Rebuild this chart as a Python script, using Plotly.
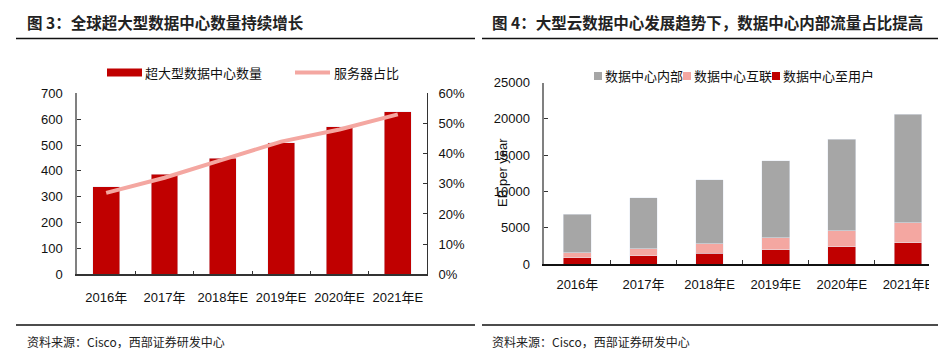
import plotly.graph_objects as go

# ---------------- data ----------------
years = ["2016年", "2017年", "2018年E", "2019年E", "2020年E", "2021年E"]
hyperscale_dc = [338, 386, 448, 509, 570, 628]
server_share = [0.27, 0.32, 0.38, 0.44, 0.48, 0.53]

dc_internal = [5330, 7060, 8810, 10560, 12580, 14970]
dc_to_dc = [640, 920, 1290, 1700, 2200, 2750]
dc_to_user = [880, 1150, 1510, 1930, 2390, 2940]

left_title = "图 3：全球超大型数据中心数量持续增长"
right_title = "图 4：大型云数据中心发展趋势下，数据中心内部流量占比提高"
source_text = "资料来源：Cisco，西部证券研发中心"

RED = "#C00000"
PINK = "#F4A7A1"
GRAY = "#A6A6A6"
OFF = 8  # default page body margin
W, H = 950 - OFF, 363 - OFF
FONT = "Liberation Sans, Arial, Noto Sans CJK SC, sans-serif"

def px(x):
    return (x - OFF) / W

def py(y):
    return 1 - (y - OFF) / H

fig = go.Figure()

# left chart
fig.add_trace(go.Bar(x=years, y=hyperscale_dc, name="超大型数据中心数量", marker_color=RED,
                     width=0.46, xaxis="x", yaxis="y", showlegend=False))
fig.add_trace(go.Scatter(x=years, y=server_share, name="服务器占比", mode="lines",
                         line=dict(color=PINK, width=4), xaxis="x", yaxis="y2", showlegend=False))

# right chart
fig.add_trace(go.Bar(x=years, y=dc_to_user, name="数据中心至用户", marker_color=RED,
                     width=0.42, xaxis="x3", yaxis="y3", showlegend=False))
fig.add_trace(go.Bar(x=years, y=dc_to_dc, name="数据中心互联", marker_color=PINK,
                     width=0.42, xaxis="x3", yaxis="y3", showlegend=False))
fig.add_trace(go.Bar(x=years, y=dc_internal, name="数据中心内部", marker_color=GRAY,
                     width=0.42, xaxis="x3", yaxis="y3", showlegend=False))

tickfont = dict(family=FONT, size=13, color="#111111")
xtickfont = dict(family=FONT, size=13, color="#111111")

fig.update_layout(
    width=W, height=H,
    margin=dict(l=0, r=0, t=0, b=0, autoexpand=False),
    paper_bgcolor="white", plot_bgcolor="white",
    barmode="stack",
    font=dict(family=FONT, size=13, color="#111111"),
    xaxis=dict(domain=[px(77), px(427)], anchor="y", type="category",
               showline=True, linecolor="#333333", linewidth=1.5,
               ticks="inside", tickson="boundaries", ticklen=4, tickcolor="#333333",
               tickfont=xtickfont, tickangle=0, showgrid=False, automargin=False,
               ticklabelstandoff=10),
    yaxis=dict(domain=[py(274.3), py(93.3)], anchor="x", range=[0, 700], dtick=100,
               showline=True, linecolor="#808080", linewidth=1.5,
               ticks="inside", ticklen=4, tickcolor="#333333", automargin=False,
               tickfont=tickfont, showgrid=False, zeroline=False, ticklabelstandoff=10),
    yaxis2=dict(overlaying="y", side="right", anchor="x", range=[0, 0.6], dtick=0.1,
                tickformat=".0%", showline=True, linecolor="#333333", linewidth=1,
                ticks="inside", ticklen=4, tickcolor="#333333", automargin=False,
                tickfont=tickfont, showgrid=False, zeroline=False, ticklabelstandoff=8),
    xaxis3=dict(domain=[px(544.3), px(941)], anchor="y3", type="category",
                showline=True, linecolor="#111111", linewidth=1.5,
                ticks="inside", tickson="boundaries", ticklen=4, tickcolor="#333333",
                tickfont=tickfont, tickangle=0, showgrid=False, automargin=False,
                ticklabelstandoff=8),
    yaxis3=dict(domain=[py(264), py(82.5)], anchor="x3", range=[0, 25000], dtick=5000,
                tickformat="d",
                showline=True, linecolor="#808080", linewidth=1.5,
                ticks="inside", ticklen=4, tickcolor="#333333", automargin=False,
                tickfont=tickfont, showgrid=False, zeroline=False, ticklabelstandoff=10),
)

shapes = []
# clip right edge of right chart
shapes.append(dict(type="rect", xref="paper", yref="paper", x0=px(929), x1=1, y0=py(310), y1=py(60),
                   fillcolor="white", line=dict(width=0), layer="above"))
# title underlines and bottom lines
for x0, x1 in [(16, 475), (482, 938)]:
    shapes.append(dict(type="line", xref="paper", yref="paper", x0=px(x0), x1=px(x1),
                       y0=py(38.5), y1=py(38.5), line=dict(color="#111111", width=1.5)))
    shapes.append(dict(type="line", xref="paper", yref="paper", x0=px(x0), x1=px(x1),
                       y0=py(325), y1=py(325), line=dict(color="#111111", width=1.5)))
# legend symbols left
shapes.append(dict(type="rect", xref="paper", yref="paper", x0=px(107), x1=px(142),
                   y0=py(76.5), y1=py(68.5), fillcolor=RED, line=dict(width=0)))
shapes.append(dict(type="line", xref="paper", yref="paper", x0=px(295), x1=px(330),
                   y0=py(72.5), y1=py(72.5), line=dict(color=PINK, width=4)))
# legend symbols right
for xs, c in [(594, GRAY), (683, PINK), (772, RED)]:
    shapes.append(dict(type="rect", xref="paper", yref="paper", x0=px(xs), x1=px(xs + 8),
                       y0=py(80), y1=py(72), fillcolor=c, line=dict(width=0)))
fig.update_layout(shapes=shapes)

ann = []
title_font = dict(family="Noto Sans CJK SC, sans-serif", size=15.5, color="#222222")
ann.append(dict(text="<b>" + left_title + "</b>", x=px(25), y=py(22), xref="paper", yref="paper",
                xanchor="left", yanchor="middle", showarrow=False, font=title_font))
ann.append(dict(text="<b>" + right_title + "</b>", x=px(490), y=py(22), xref="paper", yref="paper",
                xanchor="left", yanchor="middle", showarrow=False, font=title_font))
src_font = dict(family="Noto Sans CJK SC, Liberation Sans, sans-serif", size=12, color="#222222")
ann.append(dict(text=source_text, x=px(25), y=py(341), xref="paper", yref="paper",
                xanchor="left", yanchor="middle", showarrow=False, font=src_font))
ann.append(dict(text=source_text, x=px(490), y=py(341), xref="paper", yref="paper",
                xanchor="left", yanchor="middle", showarrow=False, font=src_font))
leg_font = dict(family="Noto Sans CJK SC, sans-serif", size=13, color="#111111")
for text, x, y in [("超大型数据中心数量", 143, 72.5), ("服务器占比", 332, 72.5),
                   ("数据中心内部", 603, 76), ("数据中心互联", 692, 76), ("数据中心至用户", 781, 76)]:
    ann.append(dict(text=text, x=px(x), y=py(y), xref="paper", yref="paper",
                    xanchor="left", yanchor="middle", showarrow=False, font=leg_font))
ann.append(dict(text="EB per year", x=px(502), y=py(173), xref="paper", yref="paper",
                xanchor="center", yanchor="middle", textangle=-90, showarrow=False,
                font=dict(family=FONT, size=13, color="#111111")))
fig.update_layout(annotations=ann)

fig.write_html("out.html")
